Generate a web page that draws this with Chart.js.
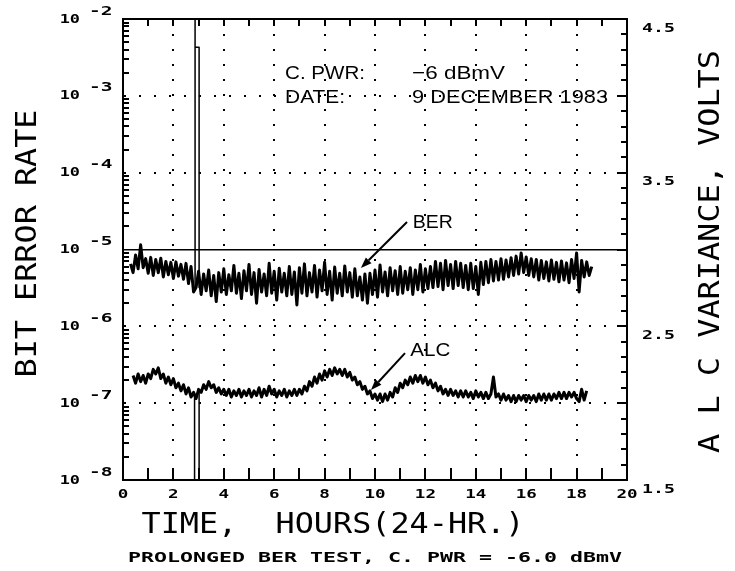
<!DOCTYPE html>
<html>
<head>
<meta charset="utf-8">
<script src="https://cdn.jsdelivr.net/npm/chart.js@4.4.0/dist/chart.umd.min.js"></script>
<style>
  html, body { margin: 0; padding: 0; background: #fff; }
  canvas { display: block; }
</style>
</head>
<body>
<canvas id="berChart" width="735" height="571"></canvas>
<script>
/*
  Prolonged BER test, 9 December 1983.
  BER on a log axis (left), ALC variance in volts (right), time in hours.
*/

// BER trace in units of 1e-6, one reading every 0.1 h starting at 0.3 h
const berStart = 0.3;
const berStep = 0.1;
const berE6 = [
  6.5, 5.0, 8.5, 5.6, 11.5, 5.8, 7.6, 4.9, 7.9, 4.6,
  7.4, 5.0, 7.7, 4.4, 7.0, 4.7, 6.8, 4.2, 6.9, 4.5,
  6.4, 4.1, 6.6, 3.6, 6.0, 2.8, 3.2, 5.2, 2.6, 4.8,
  2.9, 5.4, 2.5, 4.6, 2.1, 5.0, 2.8, 5.6, 2.6, 4.7,
  2.9, 6.2, 2.7, 4.9, 2.3, 5.3, 2.9, 6.4, 2.6, 5.0,
  2.0, 5.5, 2.8, 4.8, 2.5, 6.6, 2.7, 5.2, 2.2, 5.7,
  2.8, 4.9, 2.5, 6.0, 2.6, 5.1, 1.9, 5.8, 2.7, 6.5,
  2.5, 5.0, 2.8, 6.2, 2.4, 5.4, 2.9, 6.8, 2.6, 5.2,
  2.2, 5.9, 2.7, 4.9, 2.5, 6.1, 2.8, 5.0, 2.4, 5.6,
  2.5, 4.4, 2.2, 4.8, 2.0, 4.9, 2.6, 5.4, 2.4, 6.3,
  2.8, 5.1, 2.5, 5.8, 2.9, 5.3, 2.6, 6.0, 2.7, 5.2,
  3.0, 5.8, 2.6, 5.4, 3.0, 6.4, 2.8, 5.6, 3.1, 6.0,
  3.2, 7.0, 3.3, 6.6, 3.0, 7.2, 3.4, 6.4, 3.1, 7.0,
  3.4, 6.6, 3.2, 6.2, 3.0, 6.6, 3.1, 6.0, 2.6, 6.8,
  3.5, 7.0, 3.7, 7.4, 3.9, 7.0, 4.0, 7.6, 4.1, 7.3,
  4.4, 7.8, 4.6, 8.2, 4.8, 9.0, 5.0, 8.0, 4.6, 7.6,
  4.4, 7.4, 4.0, 7.2, 4.2, 6.9, 3.9, 7.3, 4.1, 6.8,
  3.8, 7.1, 4.0, 6.7, 3.7, 7.4, 4.2, 9.0, 2.8, 7.2,
  4.4, 6.9, 4.6, 6.0
];

// error burst near 2.9 h
const burstHours = [2.86, 2.86, 2.86, 3.02, 3.02];
const burstBer = [3.0e-6, 1.5e-2, 4.3e-3, 4.3e-3, 3.2e-6];

// ALC variance in volts, one reading every 0.1 h starting at 0.4 h
const alcStart = 0.4;
const alcStep = 0.1;
const alcVolts = [
  2.18, 2.13, 2.19, 2.14, 2.18, 2.13, 2.19, 2.16, 2.22, 2.19,
  2.23, 2.16, 2.19, 2.13, 2.17, 2.12, 2.16, 2.10, 2.13, 2.08,
  2.12, 2.06, 2.10, 2.04, 2.07, 2.03, 2.09, 2.07, 2.12, 2.09,
  2.14, 2.10, 2.12, 2.07, 2.10, 2.06, 2.09, 2.05, 2.09, 2.04,
  2.08, 2.05, 2.09, 2.04, 2.08, 2.05, 2.09, 2.04, 2.08, 2.05,
  2.10, 2.04, 2.09, 2.05, 2.11, 2.06, 2.09, 2.04, 2.08, 2.05,
  2.09, 2.04, 2.08, 2.05, 2.09, 2.05, 2.09, 2.06, 2.11, 2.08,
  2.14, 2.11, 2.17, 2.13, 2.19, 2.15, 2.21, 2.17, 2.22, 2.18,
  2.23, 2.19, 2.22, 2.18, 2.22, 2.17, 2.20, 2.15, 2.17, 2.12,
  2.14, 2.09, 2.11, 2.06, 2.08, 2.03, 2.06, 2.02, 2.06, 2.01,
  2.06, 2.02, 2.07, 2.04, 2.10, 2.07, 2.13, 2.10, 2.15, 2.12,
  2.17, 2.13, 2.18, 2.14, 2.18, 2.13, 2.17, 2.12, 2.15, 2.10,
  2.13, 2.08, 2.11, 2.06, 2.09, 2.05, 2.09, 2.05, 2.08, 2.04,
  2.08, 2.04, 2.08, 2.04, 2.07, 2.03, 2.08, 2.04, 2.07, 2.03,
  2.07, 2.03, 2.06, 2.17, 2.04, 2.06, 2.02, 2.06, 2.02, 2.05,
  2.01, 2.05, 2.01, 2.05, 2.02, 2.05, 2.01, 2.05, 2.02, 2.05,
  2.01, 2.06, 2.02, 2.06, 2.02, 2.06, 2.02, 2.06, 2.03, 2.07,
  2.03, 2.07, 2.03, 2.07, 2.04, 2.07, 2.03, 2.01, 2.09, 2.02,
  2.08
];

// ALC drop during the burst
const dipHours = [2.84, 2.84, 3.02, 3.02];
const dipVolts = [2.05, 1.40, 1.40, 2.08];

// axes
const hourLabels = [0, 2, 4, 6, 8, 10, 12, 14, 16, 18, 20];
const berExponents = [-2, -3, -4, -5, -6, -7, -8];
const voltLabels = [1.5, 2.5, 3.5, 4.5];
const berLimit = 1e-5;

const berPoints = berE6.map((v, i) => ({ x: +(berStart + i * berStep).toFixed(2), y: v * 1e-6 }));
const burstPoints = burstHours.map((h, i) => ({ x: h, y: burstBer[i] }));
const alcPoints = alcVolts.map((v, i) => ({ x: +(alcStart + i * alcStep).toFixed(2), y: v }));
const dipPoints = dipHours.map((h, i) => ({ x: h, y: dipVolts[i] }));

const CLEAR = 'rgba(0,0,0,0)';
const DOTS = [2, 13];

function isDecade(v) {
  const e = Math.log10(v);
  return Math.abs(e - Math.round(e)) < 1e-6;
}

function hourTicks(s) {
  s.ticks = [];
  for (let h = 0; h <= 20; h++) s.ticks.push({ value: h });
}

// draws text centred on cy (cap height), optionally stretched to a width
function drawText(ctx, text, x, cy, o) {
  ctx.save();
  ctx.font = o.font;
  ctx.translate(x, cy);
  if (o.rotate) ctx.rotate(o.rotate);
  const w = ctx.measureText(text).width;
  const cap = ctx.measureText('H').actualBoundingBoxAscent;
  ctx.scale(o.width ? o.width / w : (o.scaleX || 1), 1);
  ctx.textAlign = o.align || 'left';
  ctx.textBaseline = 'alphabetic';
  ctx.fillText(text, 0, cap / 2);
  ctx.restore();
}

function arrow(ctx, x1, y1, x2, y2) {
  const a = Math.atan2(y2 - y1, x2 - x1);
  const len = 11, half = 4;
  const bx = x2 - len * Math.cos(a), by = y2 - len * Math.sin(a);
  ctx.beginPath();
  ctx.moveTo(x1, y1);
  ctx.lineTo(bx, by);
  ctx.stroke();
  ctx.beginPath();
  ctx.moveTo(x2, y2);
  ctx.lineTo(bx + half * Math.sin(a), by - half * Math.cos(a));
  ctx.lineTo(bx - half * Math.sin(a), by + half * Math.cos(a));
  ctx.closePath();
  ctx.fill();
}

const tickFont = 'bold 13px "DejaVu Sans Mono"';
const titleFont = '28px "DejaVu Sans Mono"';
const noteFont = '19px "Liberation Sans"';

// tick marks pointing into the plot, drawn as small filled bars
const insideTicks = {
  id: 'insideTicks',
  afterDatasetsDraw(chart) {
    const { ctx, chartArea: area } = chart;
    const { x, y, y2 } = chart.scales;
    ctx.save();
    ctx.fillStyle = '#000';
    for (let h = 1; h < 20; h++) {
      const p = Math.round(x.getPixelForValue(h));
      ctx.fillRect(p - 1, area.bottom - 12, 2, 12);
      ctx.fillRect(p - 1, area.top, 2, 7);
    }
    for (let e = -8; e < -2; e++) {
      for (let k = 2; k <= 9; k++) {
        const p = Math.round(y.getPixelForValue(k * Math.pow(10, e)));
        ctx.fillRect(area.left, p - 1, 6, 2);
      }
    }
    for (let i = 16; i < 45; i++) {
      const p = Math.round(y2.getPixelForValue(i / 10));
      const len = i % 5 === 0 ? 10 : 6;
      ctx.fillRect(area.right - len, p - 1, len, 2);
    }
    ctx.restore();
  }
};

// labels, titles and notes
const decorations = {
  id: 'decorations',
  afterDraw(chart) {
    const { ctx, chartArea: area } = chart;
    const { x, y, y2 } = chart.scales;
    ctx.save();
    ctx.fillStyle = '#000';
    ctx.strokeStyle = '#000';
    ctx.lineWidth = 2;

    hourLabels.forEach(h => {
      drawText(ctx, String(h), x.getPixelForValue(h), area.bottom + 13,
        { font: tickFont, align: 'center', scaleX: 1.35 });
    });

    berExponents.forEach(e => {
      const py = y.getPixelForValue(Math.pow(10, e));
      drawText(ctx, '10', area.left - 43, py - 1, { font: tickFont, align: 'right', scaleX: 1.3 });
      drawText(ctx, '-' + Math.abs(e), area.left - 34, py - 9, { font: tickFont, scaleX: 1.5 });
    });

    voltLabels.forEach(v => {
      drawText(ctx, v.toFixed(1), area.right + 15, y2.getPixelForValue(v) + 8,
        { font: tickFont, scaleX: 1.4 });
    });

    const midY = (area.top + area.bottom) / 2;
    drawText(ctx, 'BIT ERROR RATE', 25, midY - 6, { font: titleFont, align: 'center', width: 268, rotate: -Math.PI / 2 });
    drawText(ctx, 'A L C VARIANCE, VOLTS', 708, midY + 2, { font: titleFont, align: 'center', width: 403, rotate: -Math.PI / 2 });
    drawText(ctx, 'TIME,  HOURS(24-HR.)', 333, area.bottom + 42, { font: titleFont, align: 'center', width: 383 });
    drawText(ctx, 'PROLONGED BER TEST, C. PWR = -6.0 dBmV', (area.left + area.right) / 2, area.bottom + 77,
      { font: 'bold 14px "DejaVu Sans Mono"', align: 'center', width: 494 });

    const px = h => x.getPixelForValue(h);
    drawText(ctx, 'C. PWR:', px(6.43), y.getPixelForValue(2.0e-3), { font: noteFont, width: 80 });
    drawText(ctx, '\u22126 dBmV', px(11.47), y.getPixelForValue(2.0e-3), { font: noteFont, width: 93 });
    drawText(ctx, 'DATE:', px(6.43), y.getPixelForValue(9.8e-4), { font: noteFont, width: 60 });
    drawText(ctx, '9 DECEMBER 1983', px(11.47), y.getPixelForValue(9.8e-4), { font: noteFont, width: 196 });

    drawText(ctx, 'BER', px(11.5), y.getPixelForValue(2.34e-5), { font: noteFont, width: 40 });
    drawText(ctx, 'ALC', px(11.4), y2.getPixelForValue(2.346), { font: noteFont, width: 40 });

    arrow(ctx, px(11.27), y.getPixelForValue(2.28e-5), px(9.44), y.getPixelForValue(5.73e-6));
    arrow(ctx, px(11.19), y2.getPixelForValue(2.326), px(9.84), y2.getPixelForValue(2.085));
    ctx.restore();
  }
};

const lineStyle = {
  borderColor: '#000',
  borderWidth: 3,
  borderJoinStyle: 'round',
  pointRadius: 0,
  tension: 0,
  fill: false
};
const thinStyle = Object.assign({}, lineStyle, { borderWidth: 1.5 });

var context = document.getElementById('berChart').getContext('2d');
var berChart = new Chart(context, {
  type: 'line',
  data: {
    datasets: [
      Object.assign({ label: 'BER', data: berPoints, xAxisID: 'x', yAxisID: 'y' }, lineStyle),
      Object.assign({ label: 'BER burst', data: burstPoints, xAxisID: 'x', yAxisID: 'y' }, thinStyle),
      Object.assign({ label: 'ALC', data: alcPoints, xAxisID: 'x', yAxisID: 'y2' }, lineStyle),
      Object.assign({ label: 'ALC dip', data: dipPoints, xAxisID: 'x', yAxisID: 'y2' }, thinStyle)
    ]
  },
  options: {
    responsive: false,
    animation: false,
    devicePixelRatio: 1,
    events: [],
    layout: { padding: 0 },
    plugins: {
      legend: { display: false },
      tooltip: { enabled: false }
    },
    scales: {
      x: {
        type: 'linear',
        position: 'bottom',
        min: 0,
        max: 20,
        afterBuildTicks: hourTicks,
        ticks: { display: false },
        grid: {
          color: c => (c.tick && hourLabels.includes(c.tick.value) && c.tick.value > 0 && c.tick.value < 20) ? '#000' : CLEAR,
          lineWidth: 2,
          drawTicks: false
        },
        border: { color: '#000', width: 2, dash: DOTS },
        afterFit: s => { s.height = 91; }
      },
      xTop: {
        type: 'linear',
        position: 'top',
        min: 0,
        max: 20,
        afterBuildTicks: hourTicks,
        ticks: { display: false },
        grid: { drawOnChartArea: false, drawTicks: false },
        border: { color: '#000', width: 2 },
        afterFit: s => { s.height = 19; }
      },
      y: {
        type: 'logarithmic',
        position: 'left',
        min: 1e-8,
        max: 1e-2,
        afterBuildTicks: s => {
          s.ticks = berExponents.map(e => ({ value: Math.pow(10, e) }));
        },
        ticks: { display: false },
        grid: {
          color: c => (c.tick && isDecade(c.tick.value) && c.tick.value > 1.5e-8 && c.tick.value < 0.5e-2) ? '#000' : CLEAR,
          lineWidth: c => (c.tick && Math.abs(c.tick.value / berLimit - 1) < 1e-6) ? 1.5 : 2,
          drawTicks: false
        },
        border: {
          color: '#000',
          width: 2,
          dash: c => (c.tick && Math.abs(c.tick.value / berLimit - 1) < 1e-6) ? [] : DOTS
        },
        afterFit: s => { s.width = 123; }
      },
      y2: {
        type: 'linear',
        position: 'right',
        min: 1.5,
        max: 4.5,
        ticks: { display: false },
        grid: { drawOnChartArea: false, drawTicks: false },
        border: { color: '#000', width: 2 },
        afterFit: s => { s.width = 108; }
      }
    }
  },
  plugins: [insideTicks, decorations]
});
</script>
</body>
</html>
